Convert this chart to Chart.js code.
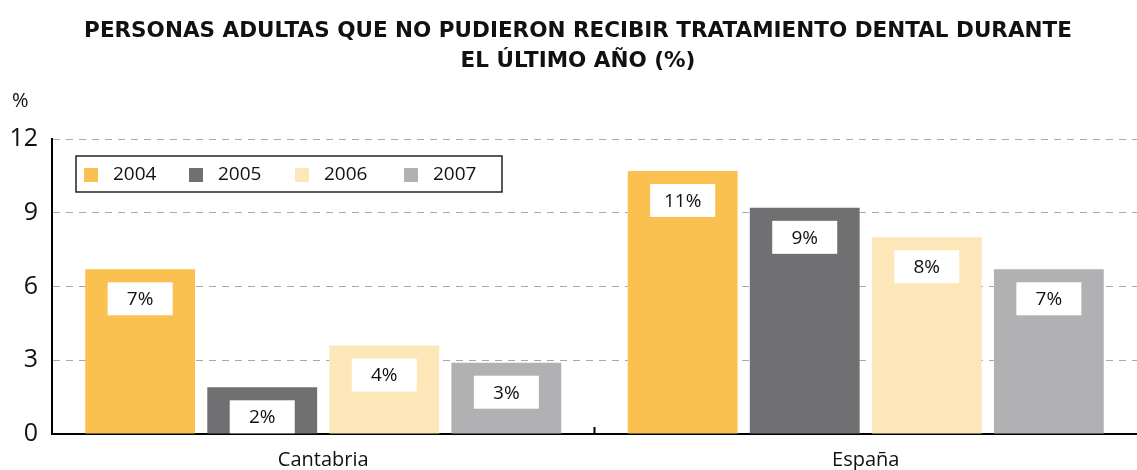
<!DOCTYPE html>
<html>
<head>
<meta charset="utf-8">
<script src="https://cdn.jsdelivr.net/npm/chart.js@4"></script>
<style>
  html, body { margin: 0; padding: 0; background: #fff; }
  #wrap { width: 1137px; height: 470px; position: relative; }
</style>
</head>
<body>
<div id="wrap"><canvas id="myChart"></canvas></div>
<script>
// categories along the x-axis
var regions = ["Cantabria", "España"];
var years = ["2004", "2005", "2006", "2007"];
// bar values (%)
var y2004 = [6.7, 10.7];
var y2005 = [1.9, 9.2];
var y2006 = [3.6, 8.0];
var y2007 = [2.9, 6.7];
var yTicks = [0, 3, 6, 9, 12];

var colors = ["#FAC150", "#707072", "#FDE6B8", "#B1B1B3"];
var titleLines = ["PERSONAS ADULTAS QUE NO PUDIERON RECIBIR TRATAMIENTO DENTAL DURANTE", "EL ÚLTIMO AÑO (%)"];
var baseFont = "'Open Sans', 'DejaVu Sans', sans-serif";

// title, legend, value boxes, % unit and the middle tick
var extras = {
  id: "extras",
  afterDatasetsDraw: function(chart) {
    var ctx = chart.ctx;
    var area = chart.chartArea;
    ctx.save();

    // value boxes inside the bars
    chart.data.datasets.forEach(function(ds, i) {
      chart.getDatasetMeta(i).data.forEach(function(bar, j) {
        var w = 65, h = 33;
        var x = bar.x - w / 2, y = bar.y + 13;
        ctx.fillStyle = "#fff";
        ctx.fillRect(x, y, w, h);
        ctx.fillStyle = "#111";
        ctx.font = "19px " + baseFont;
        ctx.textAlign = "center";
        ctx.textBaseline = "middle";
        ctx.fillText(Math.round(ds.data[j]) + "%", bar.x, y + h / 2 + 1);
      });
    });

    // small tick between categories
    var xs = chart.scales.x;
    var mid = (xs.getPixelForValue(0) + xs.getPixelForValue(1)) / 2;
    ctx.strokeStyle = "#000";
    ctx.lineWidth = 2;
    ctx.beginPath();
    ctx.moveTo(mid, area.bottom);
    ctx.lineTo(mid, area.bottom - 7);
    ctx.stroke();

    // legend
    ctx.fillStyle = "#fff";
    ctx.fillRect(76, 156, 426, 36);
    ctx.strokeStyle = "#222";
    ctx.lineWidth = 1.5;
    ctx.strokeRect(76, 156, 426, 36);
    var sq = [84, 189, 295, 404];
    years.forEach(function(yr, i) {
      ctx.fillStyle = colors[i];
      ctx.fillRect(sq[i], 168, 14, 14);
      ctx.fillStyle = "#111";
      ctx.font = "19px " + baseFont;
      ctx.textAlign = "left";
      ctx.textBaseline = "middle";
      ctx.fillText(yr, sq[i] + 29, 175);
    });

    // title
    ctx.fillStyle = "#111";
    ctx.font = "bold 21.5px 'DejaVu Sans', sans-serif";
    ctx.textAlign = "center";
    ctx.textBaseline = "middle";
    ctx.fillText(titleLines[0], 578, 31);
    ctx.fillText(titleLines[1], 578, 61);

    // unit
    ctx.font = "20px " + baseFont;
    ctx.textAlign = "left";
    ctx.fillText("%", 12, 101);
    ctx.restore();
  }
};

new Chart(document.getElementById("myChart"), {
  type: "bar",
  data: {
    labels: regions,
    datasets: [
      { label: years[0], data: y2004, backgroundColor: colors[0] },
      { label: years[1], data: y2005, backgroundColor: colors[1] },
      { label: years[2], data: y2006, backgroundColor: colors[2] },
      { label: years[3], data: y2007, backgroundColor: colors[3] }
    ]
  },
  options: {
    responsive: true,
    maintainAspectRatio: false,
    animation: false,
    layout: { padding: { top: 139, left: 0, right: 0, bottom: 0 } },
    datasets: { bar: { categoryPercentage: 0.9, barPercentage: 0.9 } },
    plugins: {
      legend: { display: false },
      title: { display: false },
      tooltip: { enabled: false }
    },
    scales: {
      x: {
        grid: { display: false },
        border: { color: "#000", width: 2 },
        ticks: { color: "#111", font: { family: baseFont, size: 20 }, padding: 6 },
        afterFit: function(s) { s.height = 36; }
      },
      y: {
        min: 0,
        max: 12,
        afterBuildTicks: function(s) { s.ticks = yTicks.map(function(v) { return { value: v }; }); },
        grid: { color: "#A8A8A8", lineWidth: 1, drawTicks: false },
        border: { color: "#000", width: 2, dash: [7, 6] },
        ticks: { color: "#111", font: { family: baseFont, size: 25 }, padding: 14 },
        afterFit: function(s) { s.width = 52; }
      }
    }
  },
  plugins: [extras]
});
</script>
</body>
</html>
